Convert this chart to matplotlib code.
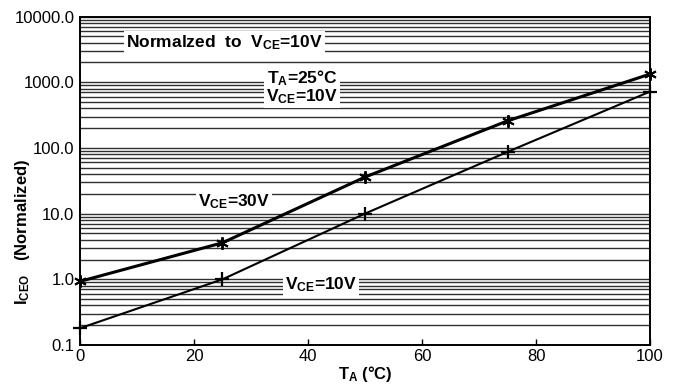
import numpy as np
import matplotlib
matplotlib.use("Agg")
import matplotlib.pyplot as plt

plt.rcParams['font.family'] = ['Liberation Sans', 'DejaVu Sans']
plt.rcParams['mathtext.fontset'] = 'custom'
plt.rcParams['mathtext.rm'] = 'Liberation Sans'
plt.rcParams['mathtext.bf'] = 'Liberation Sans:bold'

# Temperatur in °C
temp = [0, 25, 50, 75, 100]
# I_CEO normiert
iceo_30v = [0.93, 3.6, 36, 258, 1330]
iceo_10v = [0.18, 1.0, 10, 87, 720]

yticks = [0.1, 1, 10, 100, 1000, 10000]
ytick_labels = ["0.1", "1.0", "10.0", "100.0", "1000.0", "10000.0"]
xticks = [0, 20, 40, 60, 80, 100]

fig = plt.figure(figsize=(6.79, 3.87), dpi=100)
ax = fig.add_axes([0.1178, 0.1085, 0.8395, 0.8488])

ax.set_yscale('log')
ax.set_xlim(0, 100)
ax.set_ylim(0.1, 10000)

# horizontale Gitterlinien (Haupt- und Nebenteilung)
ax.grid(True, which='both', axis='y', color='#303030', lw=1.0)
ax.grid(False, axis='x')
ax.set_axisbelow(True)

ax.plot(temp, iceo_30v, color='black', lw=2.2, marker=(6, 2, 0), ms=9, mew=1.4, clip_on=False, zorder=4)
ax.plot(temp, iceo_10v, color='black', lw=1.5, marker='+', ms=10, mew=1.6, clip_on=False, zorder=4)

fs = 12.5
box = dict(facecolor='white', edgecolor='none', pad=1.5)
ax.text(25.4, 4000, r'Normalzed  to  $\mathbf{V_{CE}}$=10V', fontsize=fs, fontweight='bold',
        ha='center', va='center', bbox=box, zorder=3)
ax.text(39.0, 850, '$\\mathbf{T_A}$=25°C\n$\\mathbf{V_{CE}}$=10V', fontsize=fs, fontweight='bold',
        ha='center', va='center', linespacing=0.95, bbox=box, zorder=3)
ax.text(27.0, 15.0, r'$\mathbf{V_{CE}}$=30V', fontsize=fs, fontweight='bold',
        ha='center', va='center', bbox=box, zorder=3)
ax.text(42.3, 0.82, r'$\mathbf{V_{CE}}$=10V', fontsize=fs, fontweight='bold',
        ha='center', va='center', bbox=box, zorder=3)

ax.set_yticks(yticks)
ax.set_yticklabels(ytick_labels)
ax.yaxis.set_minor_formatter(matplotlib.ticker.NullFormatter())
ax.set_xticks(xticks)
ax.tick_params(axis='both', which='both', direction='in', labelsize=12)
ax.tick_params(axis='y', which='both', length=0, pad=4)
ax.tick_params(axis='x', length=4, width=1, pad=3)

for s in ax.spines.values():
    s.set_linewidth(1.4)

ax.set_xlabel(r'$\mathbf{T_A}$ (°C)', fontsize=12, fontweight='bold', labelpad=0)
ax.set_ylabel(r'$\mathbf{I_{CEO}}$   (Normalized)', fontsize=12, fontweight='bold')
ax.yaxis.set_label_coords(-0.1, 0.345)
ax.yaxis.label.set_va('center')

fig.savefig('out.png', dpi=100)
